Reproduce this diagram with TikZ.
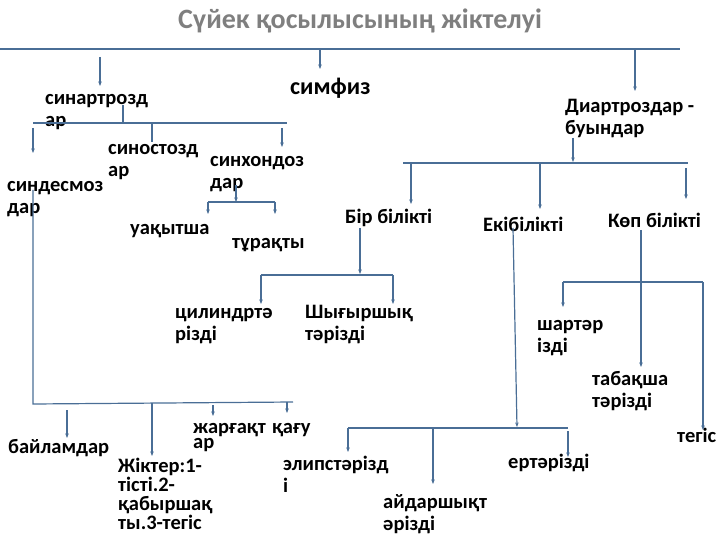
\documentclass[tikz,border=0pt]{standalone}
\usepackage{fontspec}
\setmainfont{Carlito}
\usetikzlibrary{arrows.meta}
\definecolor{lnc}{HTML}{4A6E96}
\definecolor{ttl}{HTML}{7F7F7F}
\newcommand{\mlines}[1]{\begin{tabular}[t]{@{}l@{}}#1\end{tabular}}
\tikzset{
  lbl/.style={anchor=base west, inner sep=0pt, font=\fontsize{20.5}{22}\selectfont\bfseries},
  conn/.style={draw=lnc, line width=1.2pt},
  arr/.style={conn, -{Stealth[length=4.5pt,width=3.5pt]}},
}
\begin{document}
\begin{tikzpicture}[x=1pt,y=-1pt]
\useasboundingbox (0,0) rectangle (720,540);
% title
\node[anchor=base, inner sep=0pt, font=\fontsize{28}{30}\selectfont\bfseries, text=ttl] (title) at (360,29) {Сүйек қосылысының жіктелуі};
% labels
\node[lbl] (synart) at (45,105) {\mlines{синартрозд\\ар}};
\node[lbl, font=\fontsize{24}{26}\selectfont\bfseries] (simfiz) at (290,95) {симфиз};
\node[lbl] (diart) at (565,113) {\mlines{Диартроздар\ -\\буындар}};
\node[lbl] (synost) at (108,155) {\mlines{синостозд\\ар}};
\node[lbl] (synhond) at (210,167) {\mlines{синхондоз\\дар}};
\node[lbl] (syndesm) at (7,192) {\mlines{синдесмоз\\дар}};
\node[lbl] (uaqyt) at (130,235) {уақытша};
\node[lbl] (turaq) at (232,248) {тұрақты};
\node[lbl] (bir) at (345,223) {Бір білікті};
\node[lbl] (eki) at (483,231) {Екібілікті};
\node[lbl] (kop) at (608,228) {Көп білікті};
\node[lbl] (cyl) at (175,318) {\mlines{цилиндртә\\різді}};
\node[lbl] (shyg) at (305,318) {\mlines{Шығыршық\\тәрізді}};
\node[lbl] (shar) at (537,330) {\mlines{шартәр\\ізді}};
\node[lbl] (tabaq) at (592,385) {\mlines{табақша\\тәрізді}};
\node[lbl] (tegis) at (677,442) {тегіс};
\node[lbl] (bail) at (8,453) {байламдар};
\node[lbl, font=\fontsize{20.5}{20.5}\selectfont\bfseries\renewcommand{\arraystretch}{0.8}] (zhik) at (118,472) {\mlines{Жіктер:1-\\тісті.2-\\қабыршақ\\ты.3-тегіс}};
\node[lbl, font=\fontsize{20.5}{19}\selectfont\bfseries\renewcommand{\arraystretch}{0.8}] (zharg) at (193,433) {\mlines{жарғақт\\ар}};
\node[lbl] (qagu) at (272,433) {қағу};
\node[lbl] (elip) at (283,470) {\mlines{элипстәрізд\\і}};
\node[lbl] (aidar) at (383,508) {\mlines{айдаршықт\\әрізді}};
\node[lbl] (ert) at (508,468) {ертәрізді};
% coordinates
\coordinate (topL) at (0,49);
\coordinate (topR) at (680,49);
\coordinate (a1s) at (100,57);  \coordinate (a1e) at (100,86);
\coordinate (a2s) at (320,50);  \coordinate (a2e) at (320,69);
\coordinate (a3s) at (635,50);  \coordinate (a3e) at (635,91);
\coordinate (s2L) at (33,123);  \coordinate (s2R) at (287,123);
\coordinate (s2v) at (123,105); \coordinate (s2j) at (123,123);
\coordinate (b1s) at (33,128);  \coordinate (b1e) at (33,153);
\coordinate (b2s) at (152,124); \coordinate (b2e) at (152,142);
\coordinate (b3s) at (282,128); \coordinate (b3e) at (282,147);
\coordinate (hv) at (236,185);  \coordinate (hj) at (236,202);
\coordinate (hL) at (208,202);  \coordinate (hR) at (275,202);
\coordinate (hLe) at (208,214); \coordinate (hRe) at (275,214);
\coordinate (lv) at (33,190);   \coordinate (lc) at (33,404);
\coordinate (lR) at (293,402);
\coordinate (c1s) at (67,410);  \coordinate (c1e) at (67,438);
\coordinate (c2s) at (152,403); \coordinate (c2e) at (152,456);
\coordinate (c3s) at (213,405); \coordinate (c3e) at (213,416);
\coordinate (c4s) at (287,402); \coordinate (c4e) at (287,413);
\coordinate (dv) at (573,138);  \coordinate (dj) at (573,162);
\coordinate (dL) at (403,163);  \coordinate (dR) at (688,163);
\coordinate (d1s) at (411,163); \coordinate (d1e) at (411,204);
\coordinate (d2s) at (540,163); \coordinate (d2e) at (540,209);
\coordinate (d3s) at (686,168); \coordinate (d3e) at (686,199);
\coordinate (bv) at (360,228);  \coordinate (bj) at (360,274);
\coordinate (bL) at (261,275);  \coordinate (bR) at (393,275);
\coordinate (bLe) at (261,304); \coordinate (bRe) at (393,304);
\coordinate (ev) at (513,228);  \coordinate (ej) at (517,427);
\coordinate (eL) at (348,428);  \coordinate (eR) at (568,428);
\coordinate (eLe) at (348,452); \coordinate (eMs) at (433,429);
\coordinate (eMe) at (433,484); \coordinate (eRs) at (568,431);
\coordinate (eRe) at (568,457);
\coordinate (kv) at (641,230);  \coordinate (kj) at (641,282);
\coordinate (kL) at (563,282);  \coordinate (kR) at (703,282);
\coordinate (kLe) at (563,307); \coordinate (kMe) at (641,367);
\coordinate (kRe) at (703,430);
% connectors
\draw[conn] (topL) -- (topR);
\draw[arr] (a1s) -- (a1e);
\draw[arr] (a2s) -- (a2e);
\draw[arr] (a3s) -- (a3e);
\draw[conn] (s2L) -- (s2R);
\draw[conn] (s2v) -- (s2j);
\draw[arr] (b1s) -- (b1e);
\draw[conn] (b2s) -- (b2e);
\draw[arr] (b3s) -- (b3e);
\draw[arr] (hv) -- (hj);
\draw[conn] (hL) -- (hR);
\draw[arr] (hL) -- (hLe);
\draw[arr] (hR) -- (hRe);
\draw[conn] (lv) -- (lc) -- (lR);
\draw[arr] (c1s) -- (c1e);
\draw[arr, line width=1.8pt] (c2s) -- (c2e);
\draw[arr] (c3s) -- (c3e);
\draw[arr] (c4s) -- (c4e);
\draw[arr] (dv) -- (dj);
\draw[conn] (dL) -- (dR);
\draw[arr] (d1s) -- (d1e);
\draw[arr] (d2s) -- (d2e);
\draw[arr] (d3s) -- (d3e);
\draw[arr] (bv) -- (bj);
\draw[conn] (bL) -- (bR);
\draw[arr] (bL) -- (bLe);
\draw[arr] (bR) -- (bRe);
\draw[arr] (ev) -- (ej);
\draw[conn] (eL) -- (eR);
\draw[arr] (eL) -- (eLe);
\draw[arr] (eMs) -- (eMe);
\draw[arr] (eRs) -- (eRe);
\draw[conn] (kv) -- (kj);
\draw[conn] (kL) -- (kR);
\draw[arr] (kL) -- (kLe);
\draw[arr] (kj) -- (kMe);
\draw[arr] (kR) -- (kRe);
\end{tikzpicture}
\end{document}
